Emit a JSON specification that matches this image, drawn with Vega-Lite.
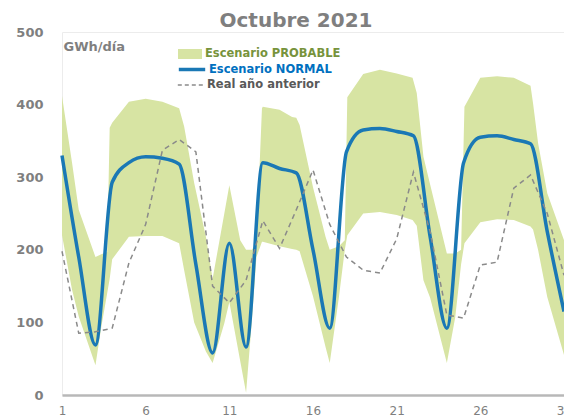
{
  "$schema": "https://vega.github.io/schema/vega-lite/v6.json",
  "autosize": {"type": "none"},
  "width": 502,
  "height": 363,
  "padding": {"left": 62, "top": 32, "right": 0, "bottom": 22},
  "background": "white",
  "config": {"view": {"stroke": "#ececec"}, "font": "DejaVu Sans"},
  "title": {"text": "Octubre 2021", "font": "DejaVu Sans", "fontSize": 20, "fontWeight": "bold", "color": "#7f7f7f", "anchor": "middle", "dx": -17, "offset": -5},
  "resolve": {"scale": {"color": "independent"}, "legend": {"color": "independent"}},
  "datasets": {
    "band": [
      {"day": 1, "upper": 412, "lower": 220},
      {"day": 1.6, "upper": 320, "lower": 145},
      {"day": 2, "upper": 255, "lower": 108},
      {"day": 3, "upper": 190, "lower": 41},
      {"day": 3.35, "upper": 194, "lower": 94},
      {"day": 3.7, "upper": 197, "lower": 140},
      {"day": 3.85, "upper": 368, "lower": 160},
      {"day": 4, "upper": 375, "lower": 187},
      {"day": 5, "upper": 404, "lower": 218},
      {"day": 6, "upper": 408, "lower": 219},
      {"day": 7, "upper": 404, "lower": 219},
      {"day": 8, "upper": 395, "lower": 209},
      {"day": 8.3, "upper": 370, "lower": 172},
      {"day": 8.9, "upper": 292, "lower": 100},
      {"day": 9.6, "upper": 218, "lower": 60},
      {"day": 10, "upper": 160, "lower": 44},
      {"day": 10.7, "upper": 250, "lower": 99},
      {"day": 11, "upper": 289, "lower": 128},
      {"day": 11.65, "upper": 213, "lower": 47},
      {"day": 12, "upper": 200, "lower": 3},
      {"day": 12.35, "upper": 200, "lower": 103},
      {"day": 12.62, "upper": 210, "lower": 190},
      {"day": 12.95, "upper": 395, "lower": 211},
      {"day": 13, "upper": 397, "lower": 211},
      {"day": 14, "upper": 393, "lower": 205},
      {"day": 14.75, "upper": 383, "lower": 201},
      {"day": 15, "upper": 382, "lower": 200},
      {"day": 15.2, "upper": 372, "lower": 198},
      {"day": 16, "upper": 286, "lower": 136},
      {"day": 16.75, "upper": 218, "lower": 66},
      {"day": 17, "upper": 200, "lower": 44},
      {"day": 17.55, "upper": 205, "lower": 135},
      {"day": 17.9, "upper": 213, "lower": 200},
      {"day": 18.05, "upper": 410, "lower": 220},
      {"day": 19, "upper": 442, "lower": 250},
      {"day": 20, "upper": 448, "lower": 252},
      {"day": 21, "upper": 443, "lower": 248},
      {"day": 21.95, "upper": 437, "lower": 241},
      {"day": 22.2, "upper": 416, "lower": 233},
      {"day": 22.6, "upper": 328, "lower": 158},
      {"day": 23, "upper": 290, "lower": 134},
      {"day": 24, "upper": 195, "lower": 44},
      {"day": 24.5, "upper": 195, "lower": 107},
      {"day": 24.85, "upper": 200, "lower": 180},
      {"day": 25.05, "upper": 397, "lower": 209},
      {"day": 26, "upper": 437, "lower": 238},
      {"day": 27, "upper": 439, "lower": 242},
      {"day": 28, "upper": 437, "lower": 241},
      {"day": 29, "upper": 426, "lower": 232},
      {"day": 29.15, "upper": 402, "lower": 228},
      {"day": 29.45, "upper": 347, "lower": 200},
      {"day": 30, "upper": 278, "lower": 135},
      {"day": 31, "upper": 213, "lower": 55}
    ],
    "normal": [
      {"day": 1, "value": 330}, {"day": 2, "value": 190}, {"day": 3, "value": 69}, {"day": 4, "value": 293},
      {"day": 5, "value": 320}, {"day": 6, "value": 328}, {"day": 7, "value": 326}, {"day": 8, "value": 318},
      {"day": 9, "value": 180}, {"day": 10, "value": 58}, {"day": 11, "value": 209}, {"day": 12, "value": 66},
      {"day": 13, "value": 320}, {"day": 14, "value": 312}, {"day": 15, "value": 306}, {"day": 16, "value": 200},
      {"day": 17, "value": 92}, {"day": 18, "value": 335}, {"day": 19, "value": 365}, {"day": 20, "value": 367},
      {"day": 21, "value": 363}, {"day": 22, "value": 357}, {"day": 23, "value": 218}, {"day": 24, "value": 92},
      {"day": 25, "value": 320}, {"day": 26, "value": 355}, {"day": 27, "value": 357}, {"day": 28, "value": 352},
      {"day": 29, "value": 346}, {"day": 30, "value": 225}, {"day": 31, "value": 115}
    ],
    "real": [
      {"day": 1, "value": 198}, {"day": 2, "value": 85}, {"day": 3, "value": 87}, {"day": 4, "value": 92},
      {"day": 5, "value": 182}, {"day": 6, "value": 235}, {"day": 7, "value": 337}, {"day": 8, "value": 352},
      {"day": 9, "value": 335}, {"day": 10, "value": 150}, {"day": 11, "value": 127}, {"day": 12, "value": 158},
      {"day": 13, "value": 240}, {"day": 14, "value": 202}, {"day": 15, "value": 255}, {"day": 16, "value": 310},
      {"day": 17, "value": 235}, {"day": 18, "value": 190}, {"day": 19, "value": 172}, {"day": 20, "value": 168},
      {"day": 21, "value": 215}, {"day": 22, "value": 307}, {"day": 23, "value": 225}, {"day": 24, "value": 110},
      {"day": 25, "value": 106}, {"day": 26, "value": 179}, {"day": 27, "value": 183}, {"day": 28, "value": 285},
      {"day": 29, "value": 303}, {"day": 30, "value": 250}, {"day": 31, "value": 165}
    ]
  },
  "layer": [
    {
      "data": {"name": "band"},
      "mark": {"type": "area", "opacity": 1},
      "encoding": {
        "x": {"field": "day", "type": "quantitative", "scale": {"domain": [1, 31], "nice": false},
          "axis": {"values": [1, 6, 11, 16, 21, 26, 31], "grid": false, "ticks": false, "domainColor": "#b8b8b8", "domainWidth": 2.5,
            "labelFont": "DejaVu Sans", "labelFontSize": 12, "labelColor": "#7f7f7f", "labelPadding": 10, "labelFlush": false,
            "labelOverlap": false, "labelBound": false, "title": null}},
        "y": {"field": "upper", "type": "quantitative", "scale": {"domain": [0, 500], "nice": false},
          "axis": {"values": [0, 100, 200, 300, 400, 500], "domain": false, "ticks": false, "grid": false,
            "labelFont": "DejaVu Sans", "labelFontSize": 13, "labelFontWeight": "bold", "labelColor": "#7f7f7f", "labelPadding": 19,
            "title": "GWh/día", "titleAngle": 0, "titleX": 1, "titleY": 18, "titleAlign": "left", "titleBaseline": "alphabetic",
            "titleFont": "DejaVu Sans", "titleFontSize": 13, "titleFontWeight": "bold", "titleColor": "#7f7f7f"}},
        "y2": {"field": "lower"},
        "color": {"datum": "Escenario PROBABLE", "type": "nominal",
          "scale": {"range": ["#d7e4a3"]},
          "legend": {
            "orient": "none", "legendX": 120, "legendY": 14, "title": null, "padding": 0,
            "labelFont": "DejaVu Sans", "labelFontSize": 11.5, "labelFontWeight": "bold", "labelOffset": 7, "labelColor": "#77933c",
            "symbolSize": 256, "symbolType": "M-1.5,-0.625H1.5V0.625H-1.5Z", "symbolFillColor": "#d7e4a3", "symbolStrokeWidth": 0, "symbolOpacity": 1}}
      }
    },
    {
      "data": {"name": "normal"},
      "mark": {"type": "line", "strokeWidth": 3.5, "interpolate": "monotone"},
      "encoding": {
        "x": {"field": "day", "type": "quantitative"},
        "y": {"field": "value", "type": "quantitative"},
        "color": {"datum": "Escenario NORMAL", "type": "nominal",
          "scale": {"range": ["#1a78b5"]},
          "legend": {
            "orient": "none", "legendX": 120, "legendY": 27.5, "title": null, "padding": 0,
            "labelFont": "DejaVu Sans", "labelFontSize": 11.5, "labelFontWeight": "bold", "labelOffset": 7, "labelColor": "#0070c0",
            "symbolSize": 256, "symbolType": "M-1.65,0H1.65", "symbolStrokeColor": "#1a78b5", "symbolStrokeWidth": 3.5, "symbolOpacity": 1}}
      }
    },
    {
      "data": {"name": "real"},
      "mark": {"type": "line", "strokeWidth": 1.5, "strokeDash": [5, 4]},
      "encoding": {
        "x": {"field": "day", "type": "quantitative"},
        "y": {"field": "value", "type": "quantitative"},
        "color": {"datum": "Real año anterior", "type": "nominal",
          "scale": {"range": ["#8a8a8a"]},
          "legend": {
            "orient": "none", "legendX": 120, "legendY": 44, "title": null, "padding": 0,
            "labelFont": "DejaVu Sans", "labelFontSize": 11.5, "labelFontWeight": "bold", "labelOffset": 7, "labelColor": "#595959",
            "symbolSize": 256, "symbolType": "M-1.65,0H1.65", "symbolStrokeColor": "#7f7f7f", "symbolStrokeWidth": 1.5, "symbolDash": [4, 3], "symbolOpacity": 1}}
      }
    }
  ]
}
